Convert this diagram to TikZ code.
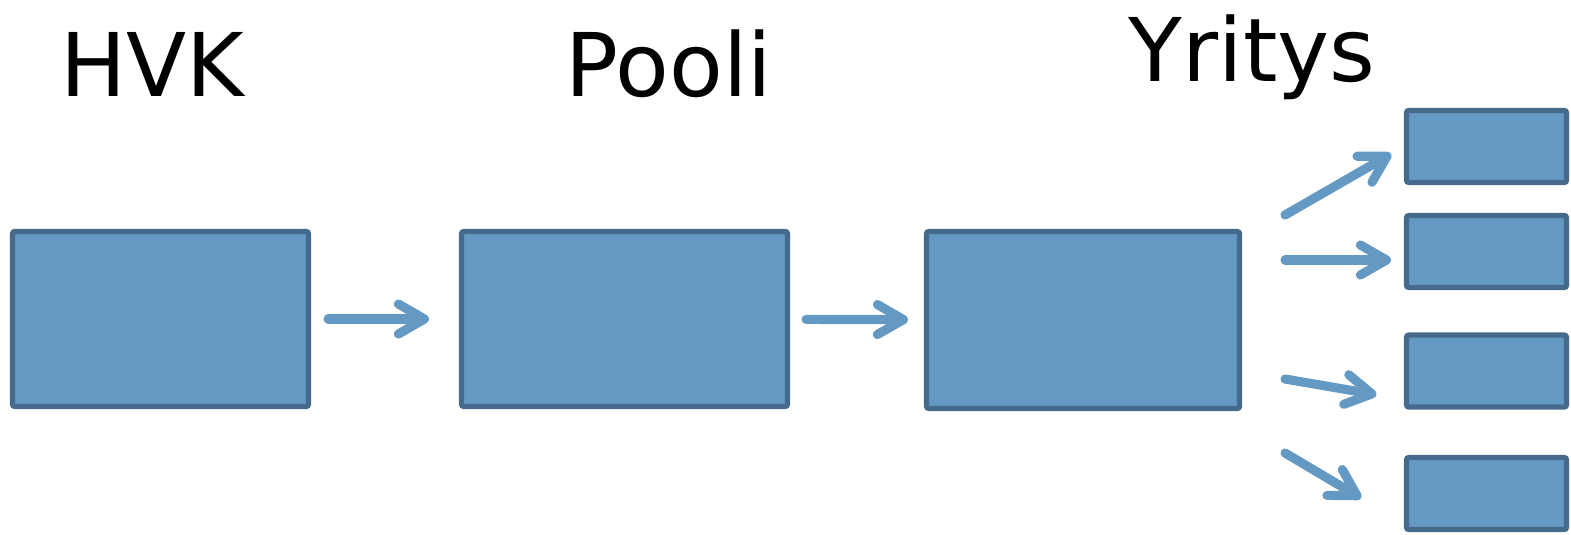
\documentclass[tikz,border=0pt]{standalone}
\usepackage{fontspec}
\newfontfamily\titlefont{DejaVu Sans}
\usetikzlibrary{arrows.meta, positioning}
\definecolor{boxfill}{RGB}{100,153,195}
\definecolor{boxline}{RGB}{70,106,140}

\begin{document}
\begin{tikzpicture}
	[
		box/.style={
				rectangle,
				rounded corners=0.6pt,
				line width=1.45pt,
				draw=boxline,
				fill=boxfill,
				minimum height=17.5mm,
			},
		smallBox/.style={
				box,
				minimum width=16.0mm,
				minimum height=7.2mm,
			},
		title/.style={
				anchor=base,
				inner sep=0pt,
				font=\titlefont\fontsize{25}{30}\selectfont,
			},
		flow/.style={
				draw=boxfill,
				line width=2.6pt,
				line cap=round,
				-{Straight Barb[length=2.6mm, width=3.0mm, line join=round, line cap=round]},
			},
	]
	\useasboundingbox (0,0) rectangle (15.71,-5.34);

	% the three stages
	\node [box, minimum width=29.6mm] (hvk) at (1.605,-3.19) {};
	\node [box, minimum width=32.6mm] (pooli) at (6.245,-3.19) {};
	\node [box, minimum width=31.3mm, minimum height=17.7mm] (yritys) at (10.83,-3.20) {};

	% the small ones on the right
	\node [smallBox] (r1) at (14.865,-1.465) {};
	\node [smallBox] (r2) at (14.865,-2.515) {};
	\node [smallBox] (r3) at (14.865,-3.71) {};
	\node [smallBox] (r4) at (14.865,-4.935) {};

	\node [title] (hvkTitle)    at (1.52,-0.96) {HVK};
	\node [title] (pooliTitle)  at (6.69,-0.96) {Pooli};
	\node [title] (yritysTitle) at (12.52,-0.81) {Yritys};

	\coordinate (f1) at (12.85,-2.15);
	\coordinate (f2) at (12.85,-2.60);
	\coordinate (f3) at (12.85,-3.79);
	\coordinate (f4) at (12.85,-4.53);

	\draw [flow, shorten <=1.7mm, shorten >=3.0mm] (hvk) -- (pooli);
	\draw [flow, shorten <=1.6mm, shorten >=1.6mm] (pooli) -- (yritys);
	\draw [flow, shorten >=1.5mm] (f1) -- (r1.west);
	\draw [flow, shorten >=1.3mm] (f2) -- (f2 -| r2.west);
	\draw [flow, shorten >=2.8mm] (f3) -- (r3.199);
	\draw [flow, shorten >=5.0mm] (f4) -- (r4.200);
\end{tikzpicture}
\end{document}
